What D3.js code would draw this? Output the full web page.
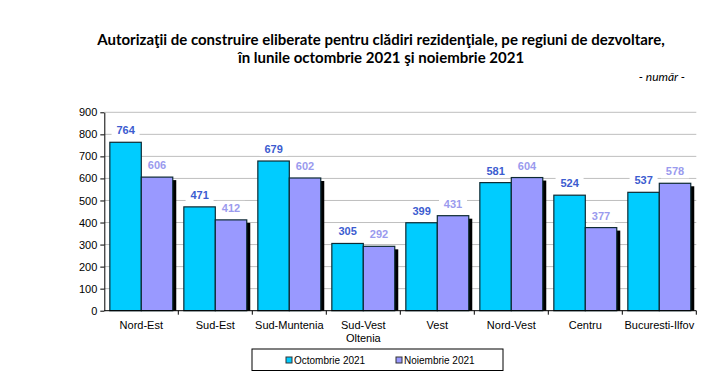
<!DOCTYPE html>
<html>
<head>
<meta charset="utf-8">
<script src="https://cdn.jsdelivr.net/npm/d3@7"></script>
<style>
  body { margin: 0; background: #fff; }
  svg { display: block; }
</style>
</head>
<body>
<div id="chart"></div>
<script>
// data
var regions = ["Nord-Est", "Sud-Est", "Sud-Muntenia", "Sud-Vest\nOltenia", "Vest", "Nord-Vest", "Centru", "Bucuresti-Ilfov"];
var octombrie = [764, 471, 679, 305, 399, 581, 524, 537];
var noiembrie = [606, 412, 602, 292, 431, 604, 377, 578];
var seriesNames = ["Octombrie 2021", "Noiembrie 2021"];
var yTicks = [0, 100, 200, 300, 400, 500, 600, 700, 800, 900];

var width = 719, height = 377;
var margin = { left: 104.3, right: 22.7, top: 112.3, bottom: 66.3 };

var svg = d3.select("#chart").append("svg")
    .attr("width", width)
    .attr("height", height);

// title
var title = svg.append("g")
    .style("font-family", "Lato, 'Open Sans', sans-serif")
    .style("font-weight", "bold")
    .style("font-size", "15px")
    .attr("text-anchor", "middle");
title.append("text").attr("x", 381).attr("y", 45)
    .text("Autorizaţii de construire eliberate pentru clădiri rezidenţiale, pe regiuni de dezvoltare,");
title.append("text").attr("x", 381).attr("y", 63)
    .text("în lunile octombrie 2021 şi noiembrie 2021");
svg.append("text")
    .attr("x", 685).attr("y", 81)
    .attr("text-anchor", "end")
    .style("font-family", "Lato, 'Open Sans', sans-serif")
    .style("font-style", "italic")
    .style("font-size", "12px")
    .text("- număr -");

var x = d3.scaleBand()
    .domain(regions)
    .range([margin.left, width - margin.right])
    .paddingInner(0)
    .paddingOuter(0);

var x1 = d3.scaleBand()
    .domain(seriesNames)
    .range([0, x.bandwidth()])
    .paddingOuter(0.176)
    .paddingInner(0);

var y = d3.scaleLinear()
    .domain([0, 900])
    .range([height - margin.bottom, margin.top]);

var colors = ["#00ccff", "#9999ff"];
var labelColors = ["#3c5cd0", "#9a9aee"];

// gridlines
svg.append("g")
    .selectAll("line")
    .data(yTicks.slice(1))
    .enter()
    .append("line")
    .attr("x1", margin.left)
    .attr("x2", width - margin.right)
    .attr("y1", d => y(d))
    .attr("y2", d => y(d))
    .attr("stroke", "#bfbfbf")
    .attr("stroke-width", 1);

var rows = regions.map(function(r, i) {
    return { region: r, values: [octombrie[i], noiembrie[i]] };
});

var groups = svg.selectAll(".grp")
    .data(rows)
    .enter()
    .append("g")
    .attr("transform", d => "translate(" + x(d.region) + ",0)");

// shadow only shows beside the second series
groups.append("rect")
    .attr("x", x1(seriesNames[1]) + 3.5)
    .attr("y", d => y(d.values[1]) + 3)
    .attr("width", x1.bandwidth())
    .attr("height", d => y(0) - y(d.values[1]) - 3)
    .attr("fill", "#000");

// bars
groups.selectAll(".bar")
    .data(d => d.values.map((v, k) => ({ k: k, v: v })))
    .enter()
    .append("rect")
    .attr("x", d => x1(seriesNames[d.k]))
    .attr("y", d => y(d.v))
    .attr("width", x1.bandwidth())
    .attr("height", d => y(0) - y(d.v))
    .attr("fill", d => colors[d.k])
    .attr("stroke", "#0d2a33")
    .attr("stroke-width", 1.2);

// value labels with white box behind
var labels = groups.selectAll(".lbl")
    .data(d => d.values.map((v, k) => ({ k: k, v: v })))
    .enter()
    .append("g")
    .attr("transform", d => "translate(" + (x1(seriesNames[d.k]) + x1.bandwidth() / 2) + "," + (y(d.v) - 8) + ")");
labels.append("rect")
    .attr("x", -14).attr("y", -11)
    .attr("width", 28).attr("height", 14)
    .attr("fill", "#fff");
labels.append("text")
    .attr("text-anchor", "middle")
    .style("font-family", "'Liberation Sans', Arial, sans-serif")
    .style("font-weight", "bold")
    .style("font-size", "11px")
    .attr("fill", d => labelColors[d.k])
    .text(d => d.v);

// y axis
var yAxis = svg.append("g")
    .attr("transform", "translate(" + margin.left + ",0)")
    .call(d3.axisLeft(y).tickValues(yTicks).tickSize(4).tickSizeOuter(0));
yAxis.select(".domain").attr("stroke", "#000");
yAxis.selectAll("text")
    .style("font-family", "'Liberation Sans', Arial, sans-serif")
    .style("font-size", "11px")
    .attr("fill", "#000")
    .attr("x", -7);

// x axis (ticks at band boundaries)
var xAxis = svg.append("g")
    .attr("transform", "translate(0," + y(0) + ")");
xAxis.append("line")
    .attr("x1", margin.left)
    .attr("x2", width - margin.right)
    .attr("stroke", "#000");
xAxis.selectAll(".tk")
    .data(regions.slice(1).concat(["end"]))
    .enter()
    .append("line")
    .attr("x1", (d, i) => margin.left + (i + 1) * x.bandwidth())
    .attr("x2", (d, i) => margin.left + (i + 1) * x.bandwidth())
    .attr("y1", 0).attr("y2", 4)
    .attr("stroke", "#000");

var catText = xAxis.selectAll(".cat")
    .data(regions)
    .enter()
    .append("text")
    .attr("text-anchor", "middle")
    .style("font-family", "'Liberation Sans', Arial, sans-serif")
    .style("font-size", "11px")
    .attr("fill", "#000")
    .attr("transform", d => "translate(" + (x(d) + x.bandwidth() / 2) + ",18.5)");
catText.selectAll("tspan")
    .data(d => d.split("\n"))
    .enter()
    .append("tspan")
    .attr("x", 0)
    .attr("dy", (d, i) => i === 0 ? 0 : 12.5)
    .text(d => d);

// legend
var legend = svg.append("g").attr("transform", "translate(252,349)");
legend.append("rect")
    .attr("width", 251).attr("height", 21.5)
    .attr("fill", "#fff")
    .attr("stroke", "#000");
var legendX = [34, 144];
seriesNames.forEach(function(name, i) {
    legend.append("rect")
        .attr("x", legendX[i]).attr("y", 8)
        .attr("width", 6).attr("height", 6)
        .attr("fill", colors[i])
        .attr("stroke", "#333");
    legend.append("text")
        .attr("x", legendX[i] + 8).attr("y", 15)
        .style("font-family", "'Liberation Sans', Arial, sans-serif")
        .style("font-size", "10px")
        .text(name);
});
</script>
</body>
</html>
